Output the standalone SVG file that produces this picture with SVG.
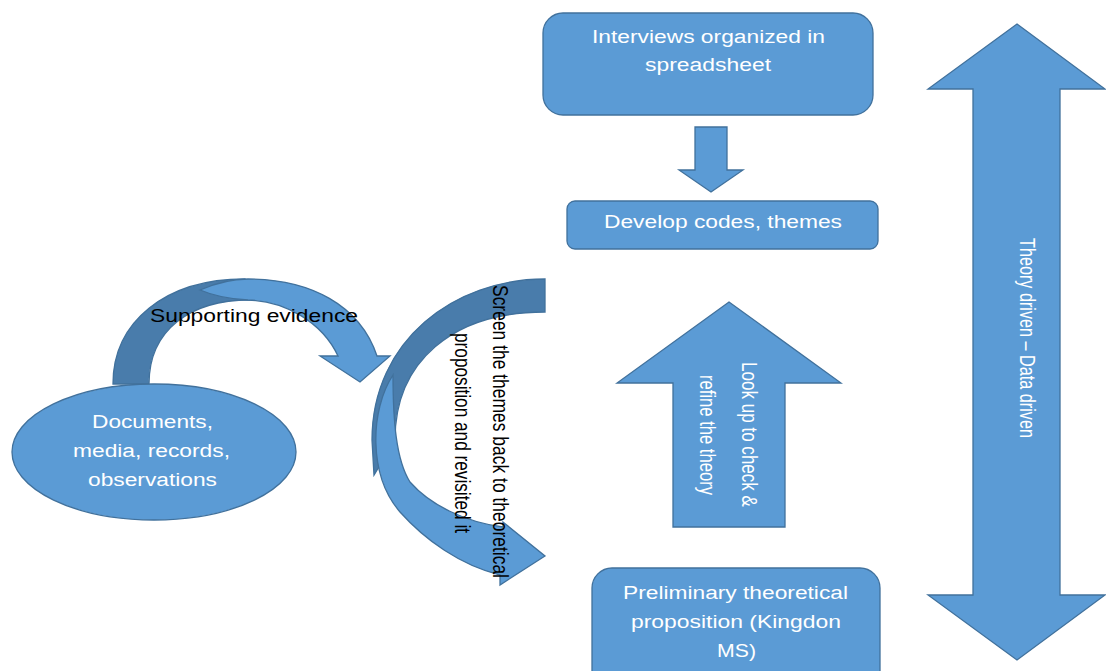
<svg xmlns="http://www.w3.org/2000/svg" width="1106" height="671" viewBox="0 0 1106 671">
<style>
.shape{fill:#5B9BD5;stroke:#41719C;stroke-width:1.3;stroke-linejoin:miter}
.dark{fill:#497CAB;stroke:#41719C;stroke-width:1.3}
.tw{font-family:"Liberation Sans",Arial,sans-serif;font-size:18px;fill:#FFFFFF}
.tb{font-family:"Liberation Sans",Arial,sans-serif;font-size:18px;fill:#000000}
.rw{font-family:"Liberation Sans",Arial,sans-serif;font-size:17.5px;fill:#FFFFFF}
.rb{font-family:"Liberation Sans",Arial,sans-serif;font-size:17.5px;fill:#000000}
</style>
<rect width="1106" height="671" fill="#FFFFFF"/>

<g id="connectors">
  <g id="arrow-supporting">
    <path class="dark" d="M113,384 C113,322 165,279 245,279 L250,300 C190,300 149,330 149,384 Z"/>
    <path class="shape" d="M200,290 C218,282 232,279 248,279 C310,279 360,305 377,356 L390,356 L360,382 L320,356 L338,356 C322,322 285,301 248,300 C230,299 214,296 200,290 Z"/>
    <text class="tb" x="150" y="322" textLength="208" lengthAdjust="spacingAndGlyphs">Supporting evidence</text>
  </g>
  <g id="arrow-screen">
    <path class="dark" d="M545,279 C455,279 372,340 372,440 L374,475 L395,440 C395,362 452,312 545,312 Z"/>
    <path class="shape" d="M393,375 C370,410 368,475 400,512 C425,540 460,565 500,575 L500,585 L545,556 L503,522 L503,527 C465,522 430,505 410,482 C396,460 393,420 393,375 Z"/>
    <text class="rb" transform="translate(493,285) scale(1.25,1) rotate(90)" x="0" y="0" textLength="293" lengthAdjust="spacingAndGlyphs">Screen the themes back to theoretical</text>
    <text class="rb" transform="translate(455,333) scale(1.25,1) rotate(90)" x="0" y="0" textLength="200" lengthAdjust="spacingAndGlyphs">proposition and revisited it</text>
  </g>
  <g id="arrow-down">
    <path class="shape" d="M695,127 L727,127 L727,170 L743,170 L711,192 L679,170 L695,170 Z"/>
  </g>
  <g id="arrow-up">
    <path class="shape" d="M729,302 L841,383 L785,383 L785,527 L673,527 L673,383 L617,383 Z"/>
    <text class="rw" transform="translate(742,362) scale(1.25,1) rotate(90)" x="0" y="0" textLength="145" lengthAdjust="spacingAndGlyphs">Look up to check &amp;</text>
    <text class="rw" transform="translate(700,375) scale(1.25,1) rotate(90)" x="0" y="0" textLength="120" lengthAdjust="spacingAndGlyphs">refine the theory</text>
  </g>
  <g id="arrow-double">
    <path class="shape" d="M1017,24 L1105,89 L1060,89 L1060,595 L1105,595 L1017,660 L928,595 L973,595 L973,89 L928,89 Z"/>
    <text class="rw" transform="translate(1020,238) scale(1.25,1) rotate(90)" x="0" y="0" textLength="200" lengthAdjust="spacingAndGlyphs">Theory driven – Data driven</text>
  </g>
</g>

<g id="node-interviews">
  <rect class="shape" x="543" y="13" width="330" height="102" rx="20" ry="20"/>
  <text class="tw" x="592" y="43" textLength="233" lengthAdjust="spacingAndGlyphs">Interviews organized in</text>
  <text class="tw" x="645" y="71" textLength="126" lengthAdjust="spacingAndGlyphs">spreadsheet</text>
</g>

<g id="node-develop">
  <rect class="shape" x="567" y="201" width="311" height="48" rx="8" ry="8"/>
  <text class="tw" x="604" y="228" textLength="238" lengthAdjust="spacingAndGlyphs">Develop codes, themes</text>
</g>

<g id="node-documents">
  <ellipse class="shape" cx="154" cy="452" rx="142" ry="68"/>
  <text class="tw" x="92" y="428" textLength="121" lengthAdjust="spacingAndGlyphs">Documents,</text>
  <text class="tw" x="73" y="457" textLength="157" lengthAdjust="spacingAndGlyphs">media, records,</text>
  <text class="tw" x="88" y="486" textLength="129" lengthAdjust="spacingAndGlyphs">observations</text>
</g>

<g id="node-preliminary">
  <rect class="shape" x="592" y="568" width="288" height="130" rx="20" ry="20"/>
  <text class="tw" x="623" y="599" textLength="225" lengthAdjust="spacingAndGlyphs">Preliminary theoretical</text>
  <text class="tw" x="631" y="628" textLength="210" lengthAdjust="spacingAndGlyphs">proposition (Kingdon</text>
  <text class="tw" x="717" y="657" textLength="39" lengthAdjust="spacingAndGlyphs">MS)</text>
</g>
</svg>
